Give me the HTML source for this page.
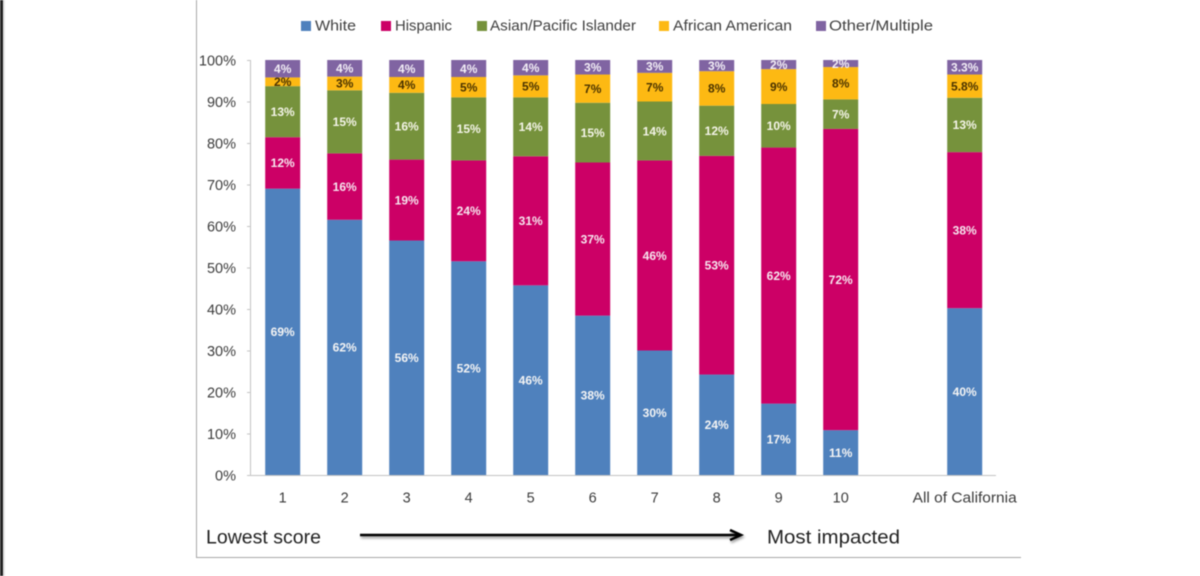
<!DOCTYPE html>
<html lang="en">
<head>
<meta charset="utf-8">
<title>Race and ethnicity by score decile</title>
<style>
html,body{margin:0;padding:0;background:#fff;width:1200px;height:576px;overflow:hidden}
svg{display:block;position:absolute;left:0;top:0;filter:blur(0.45px)}
text{font-family:"Liberation Sans",sans-serif}
</style>
</head>
<body>
<svg id="chart" width="1200" height="576" viewBox="0 0 1200 576" xmlns="http://www.w3.org/2000/svg">
  <defs>
    <filter id="arrow-shadow" x="-5%" y="-300%" width="110%" height="700%">
      <feDropShadow dx="1" dy="2" stdDeviation="1.2" flood-color="#000" flood-opacity="0.4"/>
    </filter>
  </defs>
  <rect x="0" y="0" width="3" height="576" fill="#222"/>
  <rect x="3" y="0" width="2" height="576" fill="#e4e4e4"/>
  <path d="M196.500 0V557.500H1021" fill="none" stroke="#a8a8a8" stroke-width="1"/>

  <g font-size="15" fill="#404040">
    <g>
      <rect x="301" y="21" width="10" height="10" fill="#4f81bd"/>
      <text x="315" y="30.500" textLength="41" lengthAdjust="spacingAndGlyphs">White</text>
    </g>
    <g>
      <rect x="381" y="21" width="10" height="10" fill="#cc0066"/>
      <text x="395" y="30.500" textLength="57" lengthAdjust="spacingAndGlyphs">Hispanic</text>
    </g>
    <g>
      <rect x="477" y="21" width="10" height="10" fill="#76923c"/>
      <text x="490" y="30.500" textLength="146" lengthAdjust="spacingAndGlyphs">Asian/Pacific Islander</text>
    </g>
    <g>
      <rect x="659" y="21" width="10" height="10" fill="#fdb913"/>
      <text x="673" y="30.500" textLength="119" lengthAdjust="spacingAndGlyphs">African American</text>
    </g>
    <g>
      <rect x="816" y="21" width="10" height="10" fill="#8064a2"/>
      <text x="829" y="30.500" textLength="104" lengthAdjust="spacingAndGlyphs">Other/Multiple</text>
    </g>
  </g>

  <g id="axes"></g>
  <g id="bars"></g>
  <g id="labels"></g>

  <text x="206" y="543.500" font-size="19.500" fill="#222" textLength="115" lengthAdjust="spacingAndGlyphs">Lowest score</text>
  <text x="767" y="543.500" font-size="19.500" fill="#222" textLength="133" lengthAdjust="spacingAndGlyphs">Most impacted</text>
  <g filter="url(#arrow-shadow)">
    <path d="M360 535H740" stroke="#000" stroke-width="2.500" fill="none"/>
    <path d="M730 530L741 535L730 540" stroke="#000" stroke-width="2.500" fill="none"/>
  </g>
</svg>
<script>
const categories = ['1','2','3','4','5','6','7','8','9','10','','All of California'];
const yTicks = [0,10,20,30,40,50,60,70,80,90,100];
const white = [69,61.5,56.5,51.5,45.7,38.4,30,24.2,17.2,10.8,0,40.2];
const hispanic = [12.4,16,19.5,24.3,31.1,36.9,45.8,52.7,61.7,72.6,0,37.6];
const asianPacific = [12.3,15.2,16.1,15.2,14.2,14.4,14.2,12.1,10.5,7.1,0,13.1];
const africanAmerican = [2.1,3.3,3.8,4.9,5.3,6.8,6.9,8.3,8.4,7.8,0,5.6];
const otherMultiple = [4.2,4,4.1,4.1,3.7,3.5,3.1,2.7,2.2,1.7,0,3.5];
const whiteLabels = ['69%','62%','56%','52%','46%','38%','30%','24%','17%','11%','','40%'];
const hispanicLabels = ['12%','16%','19%','24%','31%','37%','46%','53%','62%','72%','','38%'];
const asianPacificLabels = ['13%','15%','16%','15%','14%','15%','14%','12%','10%','7%','','13%'];
const africanAmericanLabels = ['2%','3%','4%','5%','5%','7%','7%','8%','9%','8%','','5.8%'];
const otherMultipleLabels = ['4%','4%','4%','4%','4%','3%','3%','3%','2%','2%','','3.3%'];

const NS = 'http://www.w3.org/2000/svg';
const xScale = function (i) { return 282.7 + 62 * i; };
const yScale = function (v) { return 475 - 4.15 * v; };
const barWidth = 35;

const seriesList = [
  { key: 'white', values: white, labels: whiteLabels, fill: '#4f81bd', text: '#f4f4f4' },
  { key: 'hispanic', values: hispanic, labels: hispanicLabels, fill: '#cc0066', text: '#f6e6ee' },
  { key: 'asian-pacific-islander', values: asianPacific, labels: asianPacificLabels, fill: '#76923c', text: '#f4f4e8' },
  { key: 'african-american', values: africanAmerican, labels: africanAmericanLabels, fill: '#fdb913', text: '#4a3300' },
  { key: 'other-multiple', values: otherMultiple, labels: otherMultipleLabels, fill: '#8064a2', text: '#f2eef6' }
];

const axes = document.getElementById('axes');
const bars = document.getElementById('bars');
const labelsGroup = document.getElementById('labels');

function make(tag, attrs, parent) {
  const el = document.createElementNS(NS, tag);
  Object.keys(attrs).forEach(function (k) { el.setAttribute(k, attrs[k]); });
  parent.appendChild(el);
  return el;
}

const yAxisLine = make('path', { d: 'M250.500 ' + yScale(100) + 'V' + yScale(0), stroke: '#c4c4c4', fill: 'none' }, axes);



const xAxisLine = make('path', { d: 'M247 ' + (yScale(0) + 0.5) + 'H996', stroke: '#c4c4c4', fill: 'none' }, axes);



yTicks.forEach(function (t) {
  const mark = make('path', { d: 'M247 ' + (yScale(t) + 0.5) + 'H251', stroke: '#c4c4c4', fill: 'none' }, axes);
  
  
  const tickText = make('text', { x: 236, y: yScale(t) + 5.5, 'text-anchor': 'end', 'font-size': 14.5, fill: '#3c3c3c' }, axes);
  tickText.textContent = t + '%';
  
  
});

categories.forEach(function (c, i) {
  if (c === '') return;
  const attrs = { x: xScale(i), y: 502.5, 'text-anchor': 'middle', 'font-size': 14.5, fill: '#3c3c3c' };
  if (c.length > 2) {
    attrs.textLength = 104;
    attrs.lengthAdjust = 'spacingAndGlyphs';
  }
  const catText = make('text', attrs, axes);
  catText.textContent = c;
  
  
});

categories.forEach(function (c, i) {
  if (c === '') return;
  let base = 0;
  seriesList.forEach(function (s) {
    const v = s.values[i];
    const top = base + v;
    const rect = make('rect', {
      x: xScale(i) - barWidth / 2,
      y: yScale(top),
      width: barWidth,
      height: yScale(base) - yScale(top),
      fill: s.fill
    }, bars);
    
    
    const label = make('text', {
      x: xScale(i),
      y: yScale(base + v / 2) + 4.3,
      'text-anchor': 'middle',
      'font-size': 12,
      'font-weight': 'bold',
      fill: s.text
    }, labelsGroup);
    label.textContent = s.labels[i];
    
    
    base = top;
  });
});
</script>
</body>
</html>
